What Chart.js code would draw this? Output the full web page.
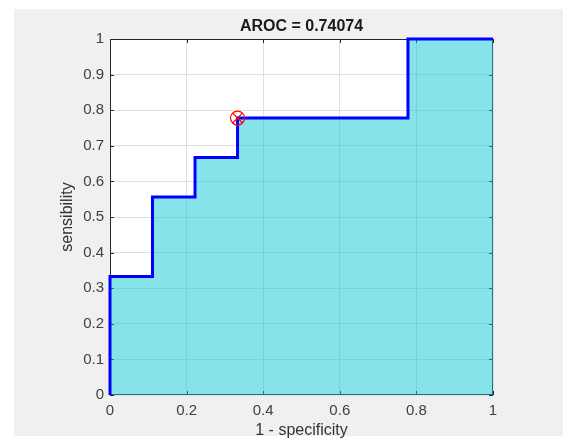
<!DOCTYPE html>
<html>
<head>
<meta charset="utf-8">
<script src="https://cdn.jsdelivr.net/npm/chart.js@4/dist/chart.umd.min.js"></script>
<style>
  html, body { margin: 0; padding: 0; background: #fff; }
  #wrap { width: 563px; height: 442px; }
</style>
</head>
<body>
<div id="wrap"><canvas id="grafRoc" width="563" height="442"></canvas></div>
<script>
//-> ROC curve points (1 - specificity, sensibility)
const fpr = [0, 0, 0.111, 0.111, 0.222, 0.222, 0.333, 0.333, 0.778, 0.778, 1];
const tpr = [0, 0.333, 0.333, 0.556, 0.556, 0.667, 0.667, 0.778, 0.778, 1, 1];
//-> optimal point
const optX = [0.333];
const optY = [0.778];
//-> ticks
const xTicks = [0, 0.2, 0.4, 0.6, 0.8, 1];
const yTicks = [0, 0.1, 0.2, 0.3, 0.4, 0.5, 0.6, 0.7, 0.8, 0.9, 1];
const chartTitle = 'AROC = 0.74074';

const FONT = '"Liberation Sans", Arial, Helvetica, sans-serif';

let curva = [];
for (let i = 0; i < fpr.length; i++) {
   curva.push({ x: fpr[i], y: tpr[i] });
}
let ponto = [];
for (let i = 0; i < optX.length; i++) {
   ponto.push({ x: optX[i], y: optY[i] });
}

function fmt(v) {
   return String(Number(v.toFixed(2)));
}

//-> figure background, axes box, inner ticks and title (MATLAB look)
const matlabLook = {
   id: 'matlabLook',
   beforeDraw(chart) {
      const ctx = chart.ctx;
      const a = chart.chartArea;
      ctx.save();
      ctx.fillStyle = '#f0f0f0';
      ctx.fillRect(14, 9, 549, 427);
      ctx.fillStyle = '#ffffff';
      ctx.fillRect(a.left, a.top, a.right - a.left, a.bottom - a.top);
      ctx.restore();
   },
   beforeDatasetsDraw(chart) {
      const ctx = chart.ctx;
      const a = chart.chartArea;
      const xs = chart.scales.x;
      const ys = chart.scales.y;
      ctx.save();
      ctx.strokeStyle = '#262626';
      ctx.lineWidth = 1;
      ctx.strokeRect(a.left + 0.5, a.top + 0.5, a.right - a.left - 1, a.bottom - a.top - 1);
      ctx.beginPath();
      xTicks.forEach(t => {
         const px = Math.round(xs.getPixelForValue(t)) + 0.5;
         ctx.moveTo(px, a.bottom); ctx.lineTo(px, a.bottom - 4);
         ctx.moveTo(px, a.top); ctx.lineTo(px, a.top + 4);
      });
      yTicks.forEach(t => {
         const py = Math.round(ys.getPixelForValue(t)) + 0.5;
         ctx.moveTo(a.left, py); ctx.lineTo(a.left + 4, py);
         ctx.moveTo(a.right, py); ctx.lineTo(a.right - 4, py);
      });
      ctx.stroke();
      ctx.restore();
   },
   afterDraw(chart) {
      const ctx = chart.ctx;
      const a = chart.chartArea;
      ctx.save();
      ctx.fillStyle = '#1a1a1a';
      ctx.font = 'bold 16px ' + FONT;
      ctx.textAlign = 'center';
      ctx.textBaseline = 'middle';
      ctx.fillText(chartTitle, (a.left + a.right) / 2, 27);
      ctx.restore();
   }
};

const grafRoc = document.getElementById('grafRoc').getContext('2d');
const chartjs = new Chart(grafRoc, {
   type: 'scatter',
   data: {
      datasets: [
         {
            label: 'opt-circle',
            data: ponto,
            showLine: false,
            pointStyle: 'circle',
            pointRadius: 7,
            pointBorderWidth: 1.2,
            pointBorderColor: 'rgb(255,0,0)',
            pointBackgroundColor: 'rgba(0,0,0,0)',
            clip: false,
            order: 0
         },
         {
            label: 'opt-cross',
            data: ponto,
            showLine: false,
            pointStyle: 'crossRot',
            pointRadius: 7,
            pointBorderWidth: 1.2,
            pointBorderColor: 'rgb(255,0,0)',
            clip: false,
            order: 0
         },
         {
            label: 'ROC',
            data: curva,
            showLine: true,
            borderColor: 'rgb(0,0,255)',
            borderWidth: 3,
            backgroundColor: 'rgba(11,199,211,0.5)',
            fill: 'origin',
            pointRadius: 0,
            tension: 0,
            clip: false,
            order: 1
         }
      ]
   },
   options: {
      responsive: false,
      animation: false,
      layout: { padding: { top: 39, right: 70, left: 0, bottom: 0 } },
      plugins: {
         legend: { display: false },
         tooltip: { enabled: false },
         title: { display: false }
      },
      scales: {
         x: {
            type: 'linear',
            min: 0,
            max: 1,
            afterBuildTicks: s => { s.ticks = xTicks.map(v => ({ value: v })); },
            afterFit: s => { s.height = 47; },
            grid: { color: '#dfdfdf', drawTicks: false },
            border: { display: false },
            ticks: {
               padding: 7,
               color: '#404040',
               font: { family: FONT, size: 15 },
               callback: v => fmt(v),
               maxRotation: 0
            },
            title: {
               display: true,
               text: '1 - specificity',
               color: '#333333',
               font: { family: FONT, size: 16 },
               padding: { top: 0, bottom: 2 }
            }
         },
         y: {
            type: 'linear',
            min: 0,
            max: 1,
            afterBuildTicks: s => { s.ticks = yTicks.map(v => ({ value: v })); },
            afterFit: s => { s.width = 110; },
            grid: { color: '#dfdfdf', drawTicks: false },
            border: { display: false },
            ticks: {
               padding: 6,
               color: '#404040',
               font: { family: FONT, size: 15 },
               callback: v => fmt(v)
            },
            title: {
               display: true,
               text: 'sensibility',
               color: '#333333',
               font: { family: FONT, size: 16 },
               padding: { top: 58, bottom: 0 }
            }
         }
      }
   },
   plugins: [matlabLook]
});
</script>
</body>
</html>
